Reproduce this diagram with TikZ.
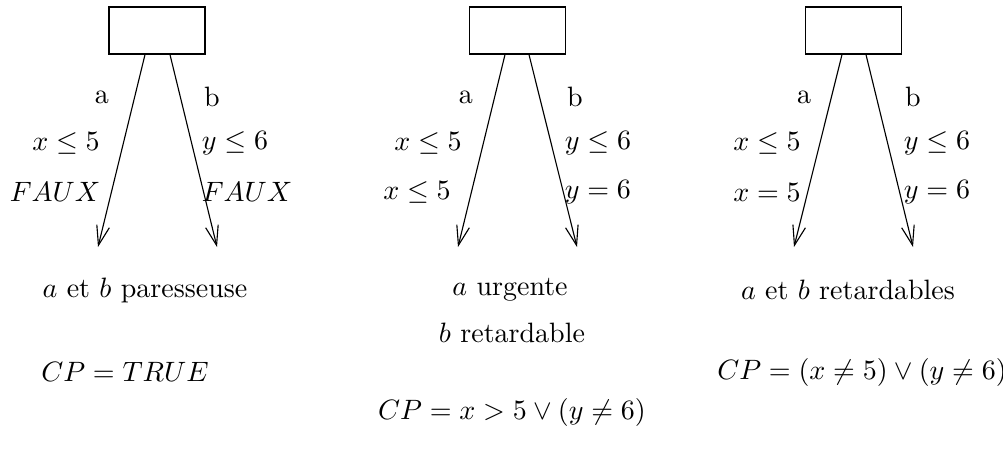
\documentclass[tikz,border=0pt]{standalone}
\usetikzlibrary{arrows.meta,calc}
\tikzset{
  statebox/.style={draw,line width=0.45pt,minimum width=34.3pt,minimum height=16.8pt,inner sep=0pt},
  trans/.style={line width=0.4pt,-{Straight Barb[length=7pt,width=4.6pt]}},
  lbl/.style={inner sep=0pt,anchor=center},
}
\begin{document}
\begin{tikzpicture}[x=0.357pt,y=-0.357pt]
\useasboundingbox (0,0) rectangle (1003,454);
% panel 1
\node[statebox] (b1) at (157,30.5) {};
\coordinate (a1e) at (98,247);
\coordinate (b1e) at (217,247);
\draw[trans] ($(b1.south)+(-12,0)$) -- (a1e);
\draw[trans] ($(b1.south)+(13,0)$) -- (b1e);
\node[lbl] (la1) at (102,97) {a};
\node[lbl] (lb1) at (212,97) {b};
\node[lbl] (ga1) at (66,143) {$x\leq 5$};
\node[lbl] (gb1) at (235,143) {$y\leq 6$};
\node[lbl] (ca1) at (55,192) {$FAUX$};
\node[lbl] (cb1) at (247,192) {$FAUX$};
\node[lbl] (t1) at (145,290) {$a$ et $b$ paresseuse};
\node[lbl] (cp1) at (125,372) {$CP=TRUE$};
% panel 2
\node[statebox] (b2) at (517.5,30.5) {};
\coordinate (a2e) at (458,247);
\coordinate (b2e) at (577,247);
\draw[trans] ($(b2.south)+(-12.5,0)$) -- (a2e);
\draw[trans] ($(b2.south)+(11.5,0)$) -- (b2e);
\node[lbl] (la2) at (466,97) {a};
\node[lbl] (lb2) at (575,97) {b};
\node[lbl] (ga2) at (428,143) {$x\leq 5$};
\node[lbl] (gb2) at (598,143) {$y\leq 6$};
\node[lbl] (ca2) at (417,192) {$x\leq 5$};
\node[lbl] (cb2) at (598,192) {$y=6$};
\node[lbl] (t2) at (510,290) {$a$ urgente};
\node[lbl] (t2b) at (512,333) {$b$ retardable};
\node[lbl] (cp2) at (512,412) {$CP=x>5\vee(y\neq 6)$};
% panel 3
\node[statebox] (b3) at (853.5,30.5) {};
\coordinate (a3e) at (794,247);
\coordinate (b3e) at (913,247);
\draw[trans] ($(b3.south)+(-11.5,0)$) -- (a3e);
\draw[trans] ($(b3.south)+(12.5,0)$) -- (b3e);
\node[lbl] (la3) at (804,97) {a};
\node[lbl] (lb3) at (913,97) {b};
\node[lbl] (ga3) at (767,143) {$x\leq 5$};
\node[lbl] (gb3) at (937,143) {$y\leq 6$};
\node[lbl] (ca3) at (767,192) {$x=5$};
\node[lbl] (cb3) at (937,192) {$y=6$};
\node[lbl] (t3) at (848,290) {$a$ et $b$ retardables};
\node[lbl] (cp3) at (862,372) {$CP=(x\neq 5)\vee(y\neq 6)$};
\end{tikzpicture}
\end{document}
